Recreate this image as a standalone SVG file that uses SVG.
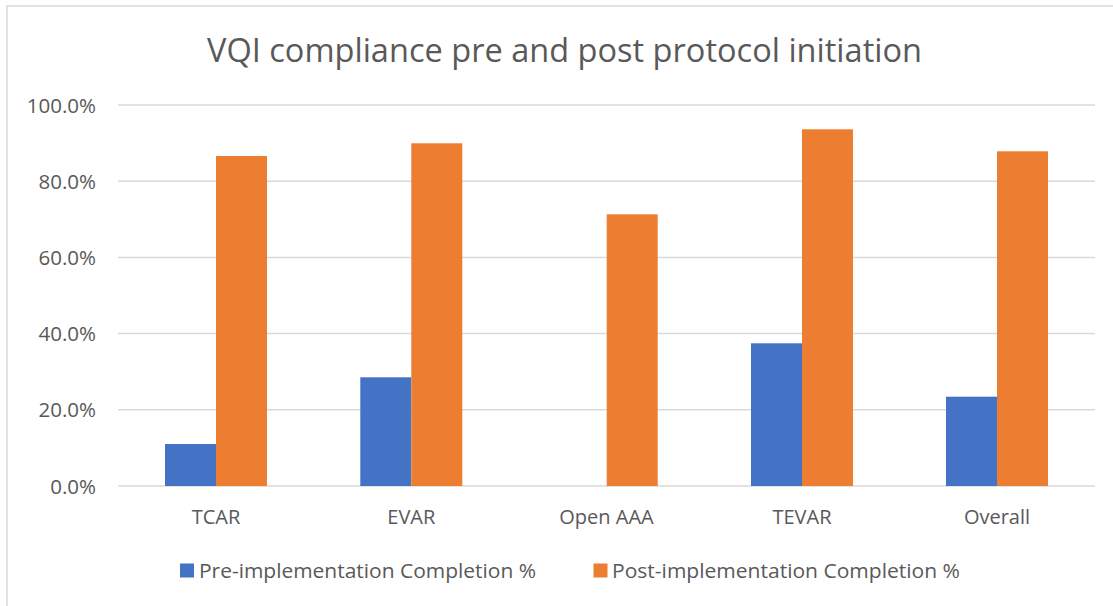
<svg xmlns="http://www.w3.org/2000/svg" width="1113" height="606" viewBox="0 0 1113 606">
  <style>
    .lbl { font-family: "Open Sans", "Liberation Sans", sans-serif; fill: #595959; }
    .ytick { font-size: 20.5px; text-anchor: end; }
    .xtick { font-size: 20px; text-anchor: middle; }
    .legend { font-size: 20px; }
    .grid { stroke: #d9d9d9; stroke-width: 1.5; }
    .pre { fill: #4472c4; }
    .post { fill: #ed7d31; }
  </style>

  <!-- chart area -->
  <rect x="0" y="0" width="1113" height="606" fill="#ffffff"/>
  <rect x="7" y="6" width="1130" height="630" fill="#ffffff" stroke="#d9d9d9" stroke-width="1.5"/>

  <!-- title -->
  <text class="lbl" x="564.5" y="61.5" font-size="32" text-anchor="middle" textLength="715" lengthAdjust="spacingAndGlyphs">VQI compliance pre and post protocol initiation</text>

  <!-- horizontal gridlines: 0% at y=486, 20% step = 76.2 px -->
  <g id="gridlines">
    <line class="grid" x1="118" y1="105" x2="1095" y2="105"/>
    <line class="grid" x1="118" y1="181.2" x2="1095" y2="181.2"/>
    <line class="grid" x1="118" y1="257.4" x2="1095" y2="257.4"/>
    <line class="grid" x1="118" y1="333.6" x2="1095" y2="333.6"/>
    <line class="grid" x1="118" y1="409.8" x2="1095" y2="409.8"/>
    <line class="grid" x1="118" y1="486" x2="1095" y2="486"/>
  </g>

  <!-- value axis labels -->
  <g id="y-axis" class="lbl ytick">
    <text x="96" y="112.5">100.0%</text>
    <text x="96" y="188.7">80.0%</text>
    <text x="96" y="264.9">60.0%</text>
    <text x="96" y="341.1">40.0%</text>
    <text x="96" y="417.3">20.0%</text>
    <text x="96" y="493.5">0.0%</text>
  </g>

  <!-- bars per category -->
  <g id="cat-tcar">
    <rect class="pre" x="165" y="444" width="51" height="42"/>
    <rect class="post" x="216" y="156" width="51" height="330"/>
    <text class="lbl xtick" x="216" y="523.5">TCAR</text>
  </g>
  <g id="cat-evar">
    <rect class="pre" x="360.3" y="377.3" width="51" height="108.7"/>
    <rect class="post" x="411.3" y="143.3" width="51" height="342.7"/>
    <text class="lbl xtick" x="411.3" y="523.5">EVAR</text>
  </g>
  <g id="cat-open-aaa">
    <rect class="post" x="606.7" y="214.3" width="51" height="271.7"/>
    <text class="lbl xtick" x="606.5" y="523.5">Open AAA</text>
  </g>
  <g id="cat-tevar">
    <rect class="pre" x="751" y="343.3" width="51" height="142.7"/>
    <rect class="post" x="802" y="129.3" width="51" height="356.7"/>
    <text class="lbl xtick" x="802" y="523.5">TEVAR</text>
  </g>
  <g id="cat-overall">
    <rect class="pre" x="946" y="396.7" width="51" height="89.3"/>
    <rect class="post" x="997" y="151.3" width="51" height="334.7"/>
    <text class="lbl xtick" x="997" y="523.5">Overall</text>
  </g>

  <!-- legend -->
  <g id="legend">
    <rect class="pre" x="180" y="563.5" width="14" height="14"/>
    <text class="lbl legend" x="199" y="577.5" textLength="337" lengthAdjust="spacingAndGlyphs">Pre-implementation Completion %</text>
    <rect class="post" x="593.5" y="563.5" width="14" height="14"/>
    <text class="lbl legend" x="612" y="577.5" textLength="348" lengthAdjust="spacingAndGlyphs">Post-implementation Completion %</text>
  </g>
</svg>
